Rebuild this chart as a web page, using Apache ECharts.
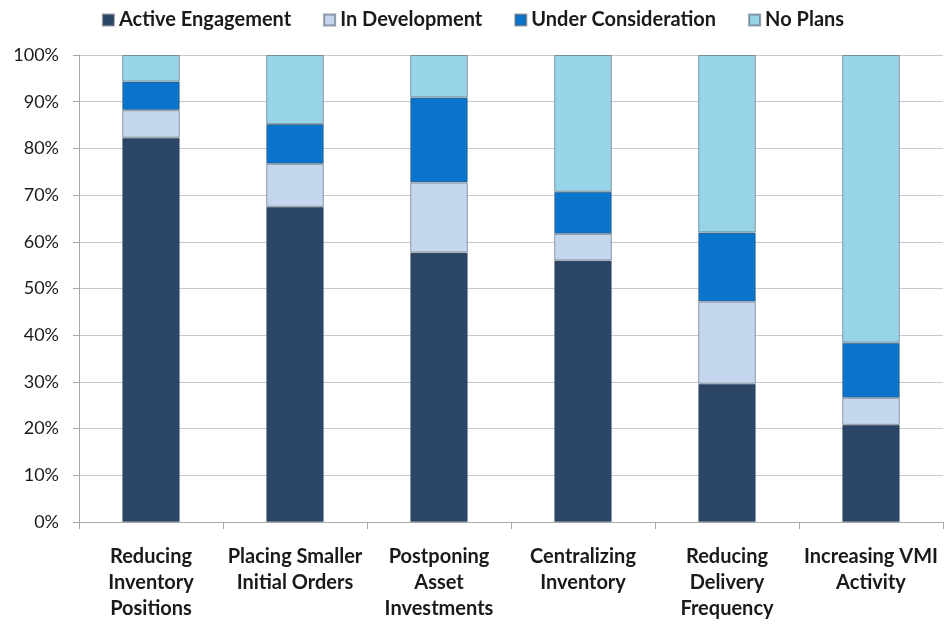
<!DOCTYPE html>
<html><head><meta charset="utf-8">
<script src="https://cdn.jsdelivr.net/npm/echarts@6/dist/echarts.min.js"></script>
<style>html,body{margin:0;padding:0;background:#fff}#c{width:946px;height:627px}</style>
</head><body><div id="c"></div>
<script>
var categories = ["Reducing\nInventory\nPositions","Placing Smaller\nInitial Orders","Postponing\nAsset\nInvestments","Centralizing\nInventory","Reducing\nDelivery\nFrequency","Increasing VMI\nActivity"];
var seriesNames = ["Active Engagement","In Development","Under Consideration","No Plans"];
var activeEngagement = [82.3, 67.5, 57.7, 56.0, 29.6, 20.8];
var inDevelopment = [5.9, 9.2, 15.0, 5.7, 17.6, 5.8];
var underConsideration = [6.1, 8.5, 18.2, 9.0, 14.8, 11.8];
var noPlans = [5.7, 14.8, 9.1, 29.3, 38.0, 61.6];
var colors = ["#2b4566","#c5d6ef","#0a74cc","#98d4e8"];
var yTicks = [0,10,20,30,40,50,60,70,80,90,100];

var dataSets = [activeEngagement, inDevelopment, underConsideration, noPlans];
var font = "Lato, 'Open Sans', sans-serif";
var chart = echarts.init(document.getElementById('c'), null, {renderer:'canvas'});
chart.setOption({
  animation:false,
  color: colors,
  legend:{
    top: 5, left:'center',
    itemWidth:11, itemHeight:11, itemGap:32,
    icon:'rect',
    textStyle:{fontFamily:font, fontWeight:'bold', fontSize:20, color:'#1a1a1a'},
    data: seriesNames
  },
  grid:{left:79, right:3, top:55, bottom:105, containLabel:false},
  xAxis:{
    type:'category', data:categories,
    axisLine:{lineStyle:{color:'#a8a8a8', width:1}},
    axisTick:{show:true, length:7, lineStyle:{color:'#a8a8a8'}},
    axisLabel:{interval:0, fontFamily:font, fontWeight:'bold', fontSize:20, color:'#1a1a1a', lineHeight:26, margin:22}
  },
  yAxis:{
    type:'value', min:0, max:100, interval:10,
    axisLine:{show:true, lineStyle:{color:'#a8a8a8'}},
    axisTick:{show:true, length:6, lineStyle:{color:'#a8a8a8'}},
    splitLine:{lineStyle:{color:'#c8c8c8', width:1}},
    axisLabel:{formatter:function(v){return v+'%';}, fontFamily:font, fontSize:18, color:'#1a1a1a', margin:20,
      customValues: yTicks}
  },
  series: dataSets.map(function(d,i){
    return {name:seriesNames[i], type:'bar', stack:'total', data:d, barWidth:'40%',
      itemStyle:{color:colors[i], borderColor:'rgba(70,85,100,0.55)', borderWidth:1}};
  })
});
</script></body></html>
